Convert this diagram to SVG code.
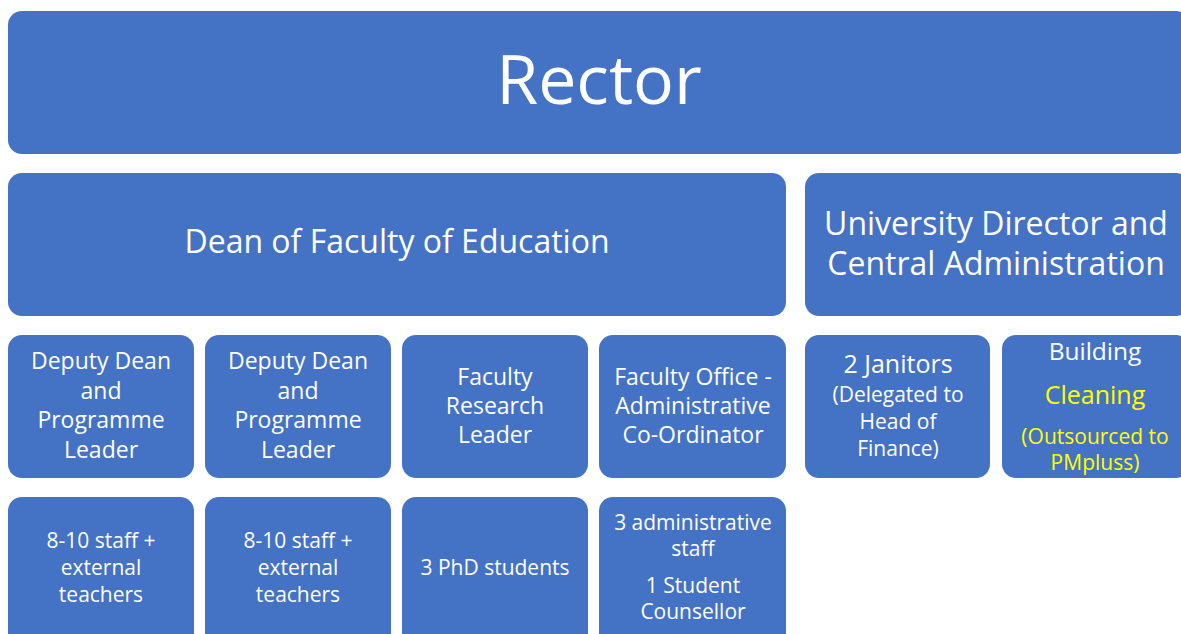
<svg xmlns="http://www.w3.org/2000/svg" width="1181" height="634" viewBox="0 0 1181 634">
<style>
.box{fill:#4472C4;}
text{font-family:"Open Sans","Noto Sans",sans-serif;fill:#FFFFFF;text-anchor:middle;}
.y{fill:#FFFF00;}
</style>
<rect width="1181" height="634" fill="#FFFFFF"/>
<g id="rector"><rect class="box" x="8" y="11" width="1182" height="143" rx="14"/><text x="599" y="104" font-size="68">Rector</text></g>
<g id="dean"><rect class="box" x="8" y="173" width="778" height="143" rx="14"/><text x="397" y="253" font-size="32">Dean of Faculty of Education</text></g>
<g id="director"><rect class="box" x="805" y="173" width="385" height="143" rx="14"/><text x="996" y="235" font-size="32">University Director and</text><text x="996" y="275" font-size="32">Central Administration</text></g>
<g id="deputy1"><rect class="box" x="8" y="335" width="186" height="143" rx="14"/><text x="101" y="369" font-size="23">Deputy Dean</text><text x="101" y="399" font-size="23">and</text><text x="101" y="428" font-size="23">Programme</text><text x="101" y="458" font-size="23">Leader</text></g>
<g id="deputy2"><rect class="box" x="205" y="335" width="186" height="143" rx="14"/><text x="298" y="369" font-size="23">Deputy Dean</text><text x="298" y="399" font-size="23">and</text><text x="298" y="428" font-size="23">Programme</text><text x="298" y="458" font-size="23">Leader</text></g>
<g id="research"><rect class="box" x="402" y="335" width="186" height="143" rx="14"/><text x="495" y="385" font-size="23">Faculty</text><text x="495" y="414" font-size="23">Research</text><text x="495" y="443" font-size="23">Leader</text></g>
<g id="office"><rect class="box" x="599" y="335" width="187" height="143" rx="14"/><text x="693" y="385" font-size="23">Faculty Office -</text><text x="693" y="414" font-size="23">Administrative</text><text x="693" y="443" font-size="23">Co-Ordinator</text></g>
<g id="janitors"><rect class="box" x="805" y="335" width="185" height="143" rx="14"/><text x="898" y="373" font-size="25">2 Janitors</text><text x="898" y="402" font-size="21">(Delegated to</text><text x="898" y="429" font-size="21">Head of</text><text x="898" y="456" font-size="21">Finance)</text></g>
<g id="cleaning"><rect class="box" x="1002" y="335" width="188" height="143" rx="14"/><text x="1095" y="360" font-size="24.5">Building</text><text class="y" x="1095" y="404" font-size="25">Cleaning</text><text class="y" x="1095" y="444" font-size="21">(Outsourced to</text><text class="y" x="1095" y="470" font-size="21">PMpluss)</text></g>
<g id="staff1"><rect class="box" x="8" y="497" width="186" height="150" rx="14"/><text x="101" y="548" font-size="21">8-10 staff +</text><text x="101" y="575" font-size="21">external</text><text x="101" y="602" font-size="21">teachers</text></g>
<g id="staff2"><rect class="box" x="205" y="497" width="186" height="150" rx="14"/><text x="298" y="548" font-size="21">8-10 staff +</text><text x="298" y="575" font-size="21">external</text><text x="298" y="602" font-size="21">teachers</text></g>
<g id="phd"><rect class="box" x="402" y="497" width="186" height="150" rx="14"/><text x="495" y="575" font-size="21">3 PhD students</text></g>
<g id="admin"><rect class="box" x="599" y="497" width="187" height="150" rx="14"/><text x="693" y="530" font-size="21">3 administrative</text><text x="693" y="556" font-size="21">staff</text><text x="693" y="593" font-size="21">1 Student</text><text x="693" y="619" font-size="21">Counsellor</text></g>
<g id="connectors"></g>
</svg>
